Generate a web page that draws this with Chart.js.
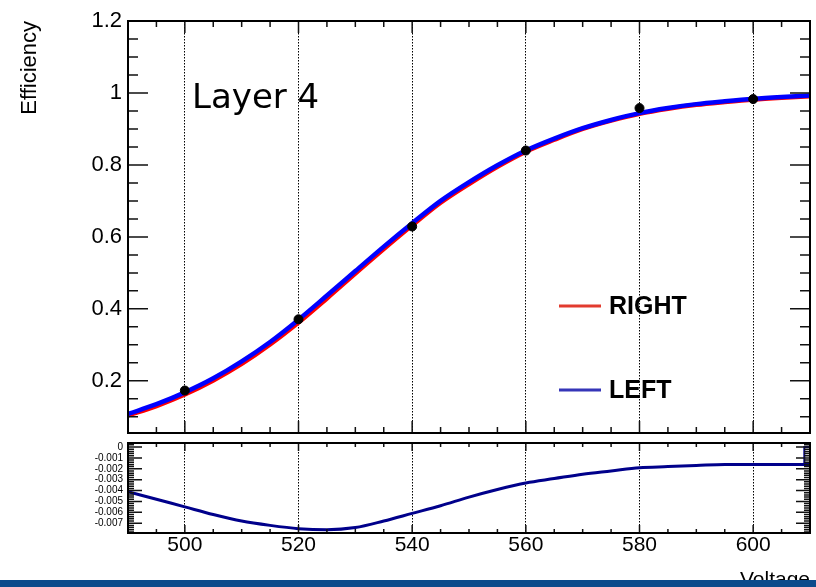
<!DOCTYPE html>
<html lang="en">
<head>
<meta charset="UTF-8">
<title>Layer 4 efficiency</title>
<style>
  html, body { margin: 0; padding: 0; background: #fff; overflow: hidden; }
  body { width: 816px; height: 587px; position: relative; }
  #topWrap { position: absolute; left: 0; top: 0; width: 816px; height: 440px; }
  #botWrap { position: absolute; left: 0; top: 440px; width: 816px; height: 160px; }
  #bar { position: absolute; left: 0; top: 580px; width: 816px; height: 7px; background: #0b4a8b; z-index: 5; }
</style>
</head>
<body>
<div id="topWrap"><canvas id="effChart" width="816" height="440"></canvas></div>
<div id="botWrap"><canvas id="diffChart" width="816" height="160"></canvas></div>
<div id="bar"></div>
<script src="https://cdn.jsdelivr.net/npm/chart.js"></script>
<script>
// fitted curves, every 5 V
const voltages = [490, 495, 500, 505, 510, 515, 520, 525, 530, 535, 540, 545, 550,
                  555, 560, 565, 570, 575, 580, 585, 590, 595, 600, 605, 610];
const leftEff = [0.108, 0.135, 0.168, 0.207, 0.254, 0.308, 0.370, 0.437, 0.505, 0.573, 0.638, 0.700, 0.752,
                 0.799, 0.840, 0.873, 0.902, 0.925, 0.944, 0.958, 0.969, 0.977, 0.984, 0.989, 0.993];
const rightEff = [0.104, 0.130, 0.162, 0.201, 0.247, 0.301, 0.362, 0.429, 0.498, 0.566, 0.632, 0.695, 0.747,
                  0.795, 0.837, 0.870, 0.900, 0.923, 0.942, 0.956, 0.967, 0.975, 0.982, 0.987, 0.991];
// difference panel
const diffValues = [-0.0041, -0.0048, -0.0055, -0.0062, -0.0068, -0.0072, -0.0075, -0.0076, -0.0074, -0.0068,
                    -0.0061, -0.0054, -0.0046, -0.0039, -0.0033, -0.0029, -0.0025, -0.0022, -0.0019, -0.0018,
                    -0.0017, -0.0016, -0.0016, -0.0016, -0.0016];
const lastBinX = [609, 609, 610];
const lastBinY = [-0.0016, 0, 0];
// measured points
const measVoltages = [500, 520, 540, 560, 580, 600];
const measEff = [0.173, 0.371, 0.629, 0.840, 0.958, 0.983];
// tick labels
const xTickLabels = [500, 520, 540, 560, 580, 600];
const effTickLabels = [0.2, 0.4, 0.6, 0.8, 1, 1.2];
const diffTickLabels = [0, -0.001, -0.002, -0.003, -0.004, -0.005, -0.006, -0.007];

const sans = '"Liberation Sans", Arial, sans-serif';

function xy(xs, ys) {
    return xs.map((x, i) => ({ x: x, y: ys[i] }));
}

// ROOT style frame with ticks on all four sides
const rootFrame = {
    id: 'rootFrame',
    afterDraw(chart, args, opts) {
        const { ctx, chartArea: a, scales: { x, y } } = chart;
        ctx.save();
        ctx.strokeStyle = '#111';
        ctx.lineWidth = 1.5;
        ctx.beginPath();
        for (let k = Math.ceil(x.min / opts.xStep); k * opts.xStep <= x.max; k++) {
            const v = k * opts.xStep;
            const px = x.getPixelForValue(v);
            const len = opts.xMajor.includes(v) ? opts.xMajorLen : opts.xMinorLen;
            ctx.moveTo(px, a.top); ctx.lineTo(px, a.top + len);
            ctx.moveTo(px, a.bottom); ctx.lineTo(px, a.bottom - len);
        }
        for (let k = Math.ceil(y.min / opts.yStep - 1e-6); k * opts.yStep <= y.max + 1e-9; k++) {
            const v = k * opts.yStep;
            const py = y.getPixelForValue(v);
            const major = opts.yMajor.some(m => Math.abs(m - v) < opts.yStep / 10);
            const len = major ? opts.yMajorLen : opts.yMinorLen;
            ctx.moveTo(a.left, py); ctx.lineTo(a.left + len, py);
            ctx.moveTo(a.right, py); ctx.lineTo(a.right - len, py);
        }
        ctx.stroke();
        ctx.lineWidth = 2;
        ctx.strokeStyle = '#000';
        ctx.strokeRect(a.left, a.top, a.right - a.left, a.bottom - a.top);
        ctx.restore();
    }
};

// "Layer 4" label and the legend entries
const labels = {
    id: 'labels',
    afterDraw(chart) {
        const ctx = chart.ctx;
        ctx.save();
        ctx.fillStyle = '#000';
        ctx.font = '34px "DejaVu Sans", sans-serif';
        ctx.textBaseline = 'alphabetic';
        ctx.fillText('Layer 4', 192, 108);

        const entries = [
            { text: 'RIGHT', color: '#e23b2e', y: 306 },
            { text: 'LEFT', color: '#3535b8', y: 390 }
        ];
        ctx.font = 'bold 25px ' + sans;
        ctx.textBaseline = 'middle';
        entries.forEach(e => {
            ctx.strokeStyle = e.color;
            ctx.lineWidth = 3;
            ctx.beginPath();
            ctx.moveTo(559, e.y);
            ctx.lineTo(601, e.y);
            ctx.stroke();
            ctx.fillText(e.text, 609, e.y + 1);
        });
        ctx.restore();
    }
};

const effChart = new Chart(document.getElementById('effChart'), {
    type: 'line',
    data: {
        datasets: [
            {
                type: 'scatter',
                data: xy(measVoltages, measEff),
                backgroundColor: '#000',
                borderColor: '#000',
                pointRadius: 4.5,
                order: 0
            },
            {
                label: 'LEFT',
                data: xy(voltages, leftEff),
                borderColor: '#0000ff',
                borderWidth: 4.5,
                pointRadius: 0,
                cubicInterpolationMode: 'monotone',
                order: 1
            },
            {
                label: 'RIGHT',
                data: xy(voltages, rightEff),
                borderColor: '#ff0000',
                borderWidth: 4.5,
                pointRadius: 0,
                cubicInterpolationMode: 'monotone',
                order: 2
            }
        ]
    },
    options: {
        responsive: false,
        animation: false,
        layout: { padding: { left: 0, right: 6, top: 21, bottom: 7 } },
        scales: {
            x: {
                type: 'linear',
                min: 490,
                max: 610,
                afterBuildTicks: s => { s.ticks = xTickLabels.map(v => ({ value: v })); },
                ticks: { display: false },
                grid: { color: '#000', lineWidth: 1, drawTicks: false },
                border: { display: false, dash: [1.5, 1.5] },
                afterFit: s => { s.height = 0; s.paddingLeft = 0; s.paddingRight = 0; }
            },
            y: {
                min: 0.055,
                max: 1.2,
                afterBuildTicks: s => { s.ticks = effTickLabels.map(v => ({ value: v })); },
                ticks: {
                    color: '#000',
                    autoSkip: false,
                    font: { family: sans, size: 22 },
                    padding: 6,
                    callback: v => String(v)
                },
                grid: { display: false, drawTicks: false },
                border: { display: false },
                title: {
                    display: true,
                    text: 'Efficiency',
                    align: 'end',
                    color: '#000',
                    font: { family: sans, size: 22 },
                    padding: { top: 17, bottom: 0 }
                },
                afterFit: s => { s.width = 128; s.paddingTop = 0; s.paddingBottom = 0; }
            }
        },
        plugins: {
            legend: { display: false },
            tooltip: { enabled: false },
            rootFrame: {
                xStep: 5, xMajor: xTickLabels, xMajorLen: 12, xMinorLen: 6,
                yStep: 0.05, yMajor: effTickLabels, yMajorLen: 20, yMinorLen: 10
            }
        }
    },
    plugins: [rootFrame, labels]
});

const diffChart = new Chart(document.getElementById('diffChart'), {
    type: 'line',
    data: {
        datasets: [
            {
                data: xy(voltages, diffValues),
                borderColor: '#00008b',
                borderWidth: 3,
                pointRadius: 0,
                cubicInterpolationMode: 'monotone'
            },
            {
                data: xy(lastBinX, lastBinY),
                borderColor: '#00008b',
                borderWidth: 2,
                pointRadius: 0,
                tension: 0
            }
        ]
    },
    options: {
        responsive: false,
        animation: false,
        layout: { padding: { left: 0, right: 6, top: 3, bottom: 0 } },
        scales: {
            x: {
                type: 'linear',
                min: 490,
                max: 610,
                afterBuildTicks: s => { s.ticks = xTickLabels.map(v => ({ value: v })); },
                ticks: {
                    color: '#000',
                    autoSkip: false,
                    font: { family: sans, size: 21 },
                    padding: 0,
                    maxRotation: 0,
                    callback: v => String(v)
                },
                grid: { color: '#000', lineWidth: 1, drawTicks: false },
                border: { display: false, dash: [1.5, 1.5] },
                title: {
                    display: true,
                    text: 'Voltage',
                    align: 'end',
                    color: '#000',
                    font: { family: sans, size: 21 },
                    padding: { top: 0, bottom: 7 }
                },
                afterFit: s => { s.height = 67; s.paddingLeft = 0; s.paddingRight = 0; }
            },
            y: {
                min: -0.0079,
                max: 0.00037,
                afterBuildTicks: s => { s.ticks = diffTickLabels.map(v => ({ value: v })); },
                ticks: {
                    color: '#000',
                    autoSkip: false,
                    font: { family: sans, size: 10 },
                    padding: 5,
                    callback: v => (v === 0 ? '0' : v.toFixed(3))
                },
                grid: { display: false, drawTicks: false },
                border: { display: false },
                afterFit: s => { s.width = 128; s.paddingTop = 0; s.paddingBottom = 0; }
            }
        },
        plugins: {
            legend: { display: false },
            tooltip: { enabled: false },
            rootFrame: {
                xStep: 5, xMajor: xTickLabels, xMajorLen: 8, xMinorLen: 4,
                yStep: 0.0002, yMajor: diffTickLabels, yMajorLen: 14, yMinorLen: 6
            }
        }
    },
    plugins: [rootFrame]
});
</script>
</body>
</html>
